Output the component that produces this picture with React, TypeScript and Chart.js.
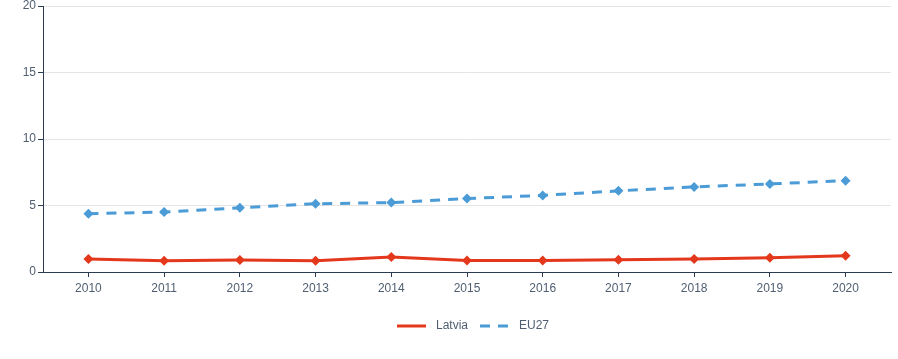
import React, { useEffect, useRef } from "react";
import { Chart, registerables } from "chart.js";

Chart.register(...registerables);

const years = ["2010", "2011", "2012", "2013", "2014", "2015", "2016", "2017", "2018", "2019", "2020"];
const latvia = [0.98, 0.85, 0.9, 0.85, 1.13, 0.87, 0.86, 0.93, 0.98, 1.08, 1.23];
const eu27 = [4.38, 4.51, 4.83, 5.13, 5.22, 5.52, 5.76, 6.1, 6.4, 6.62, 6.87];
const yTicks = [0, 5, 10, 15, 20];

const RED = "#e4381d";
const BLUE = "#4a9bd6";
const AXIS = "#2b3d52";
const TEXT = "#4f5e71";
const FONT = "'Liberation Sans', Arial, sans-serif";

export default function App() {
  const ref = useRef<HTMLCanvasElement>(null);
  useEffect(() => {
    document.body.style.margin = "0";
    const legendPlugin = {
      id: "customLegend",
      afterDraw(chart: any) {
        const ctx = chart.ctx;
        const ds = chart.data.datasets;
        ctx.save();
        ctx.font = `12px ${FONT}`;
        ctx.fillStyle = TEXT;
        ctx.textBaseline = "middle";
        const y = 326;
        ctx.strokeStyle = ds[0].borderColor;
        ctx.lineWidth = 3;
        ctx.setLineDash([]);
        ctx.beginPath();
        ctx.moveTo(397, y);
        ctx.lineTo(426, y);
        ctx.stroke();
        ctx.fillText(ds[0].label, 436, y);
        ctx.strokeStyle = ds[1].borderColor;
        ctx.setLineDash([10, 8]);
        ctx.beginPath();
        ctx.moveTo(480, y);
        ctx.lineTo(508, y);
        ctx.stroke();
        ctx.setLineDash([]);
        ctx.fillText(ds[1].label, 519, y);
        ctx.restore();
      },
    };
    const chart = new Chart(ref.current!, {
      type: "line",
      data: {
        datasets: [
          {
            label: "Latvia",
            data: latvia.map((v, i) => ({ x: i, y: v })),
            borderColor: RED,
            backgroundColor: RED,
            borderWidth: 3,
            pointStyle: "rectRot",
            pointRadius: 5,
            pointBorderWidth: 0,
          },
          {
            label: "EU27",
            data: eu27.map((v, i) => ({ x: i, y: v })),
            borderColor: BLUE,
            backgroundColor: BLUE,
            borderWidth: 3,
            borderDash: [10, 8],
            pointStyle: "rectRot",
            pointRadius: 5,
            pointBorderWidth: 0,
          },
        ],
      },
      options: {
        animation: false,
        responsive: false,
        layout: { padding: { top: 6, right: 7, left: 0, bottom: 0 } },
        plugins: { legend: { display: false }, tooltip: { enabled: false } },
        scales: {
          x: {
            type: "linear",
            min: -0.6,
            max: 10.6,
            afterBuildTicks: (scale: any) => {
              scale.ticks = years.map((_, i) => ({ value: i }));
            },
            afterFit: (scale: any) => {
              scale.height = 87;
              scale.paddingLeft = 0;
              scale.paddingRight = 0;
            },
            ticks: {
              callback: (v: any) => years[v] ?? "",
              color: TEXT,
              font: { family: FONT, size: 12 },
              padding: 4,
              maxRotation: 0,
              autoSkip: false,
            },
            grid: { drawOnChartArea: false, drawTicks: true, tickLength: 5, color: AXIS },
            border: { color: AXIS, width: 1 },
          },
          y: {
            min: 0,
            max: 20,
            afterBuildTicks: (scale: any) => {
              scale.ticks = yTicks.map((v) => ({ value: v }));
            },
            afterFit: (scale: any) => {
              scale.width = 43;
              scale.paddingTop = 0;
              scale.paddingBottom = 0;
            },
            ticks: {
              color: TEXT,
              font: { family: FONT, size: 12 },
              padding: 2,
            },
            grid: {
              color: (c: any) => (c.tick && c.tick.value === 0 ? AXIS : "#e4e4e4"),
              tickColor: AXIS,
              tickLength: 5,
              lineWidth: 1,
            },
            border: { color: AXIS, width: 1 },
          },
        },
      },
      plugins: [legendPlugin],
    });
    return () => chart.destroy();
  }, []);
  return (
    <div style={{ position: "absolute", left: 0, top: 0, width: 898, height: 359 }}>
      <canvas ref={ref} width={898} height={359} style={{ width: 898, height: 359 }} />
    </div>
  );
}
